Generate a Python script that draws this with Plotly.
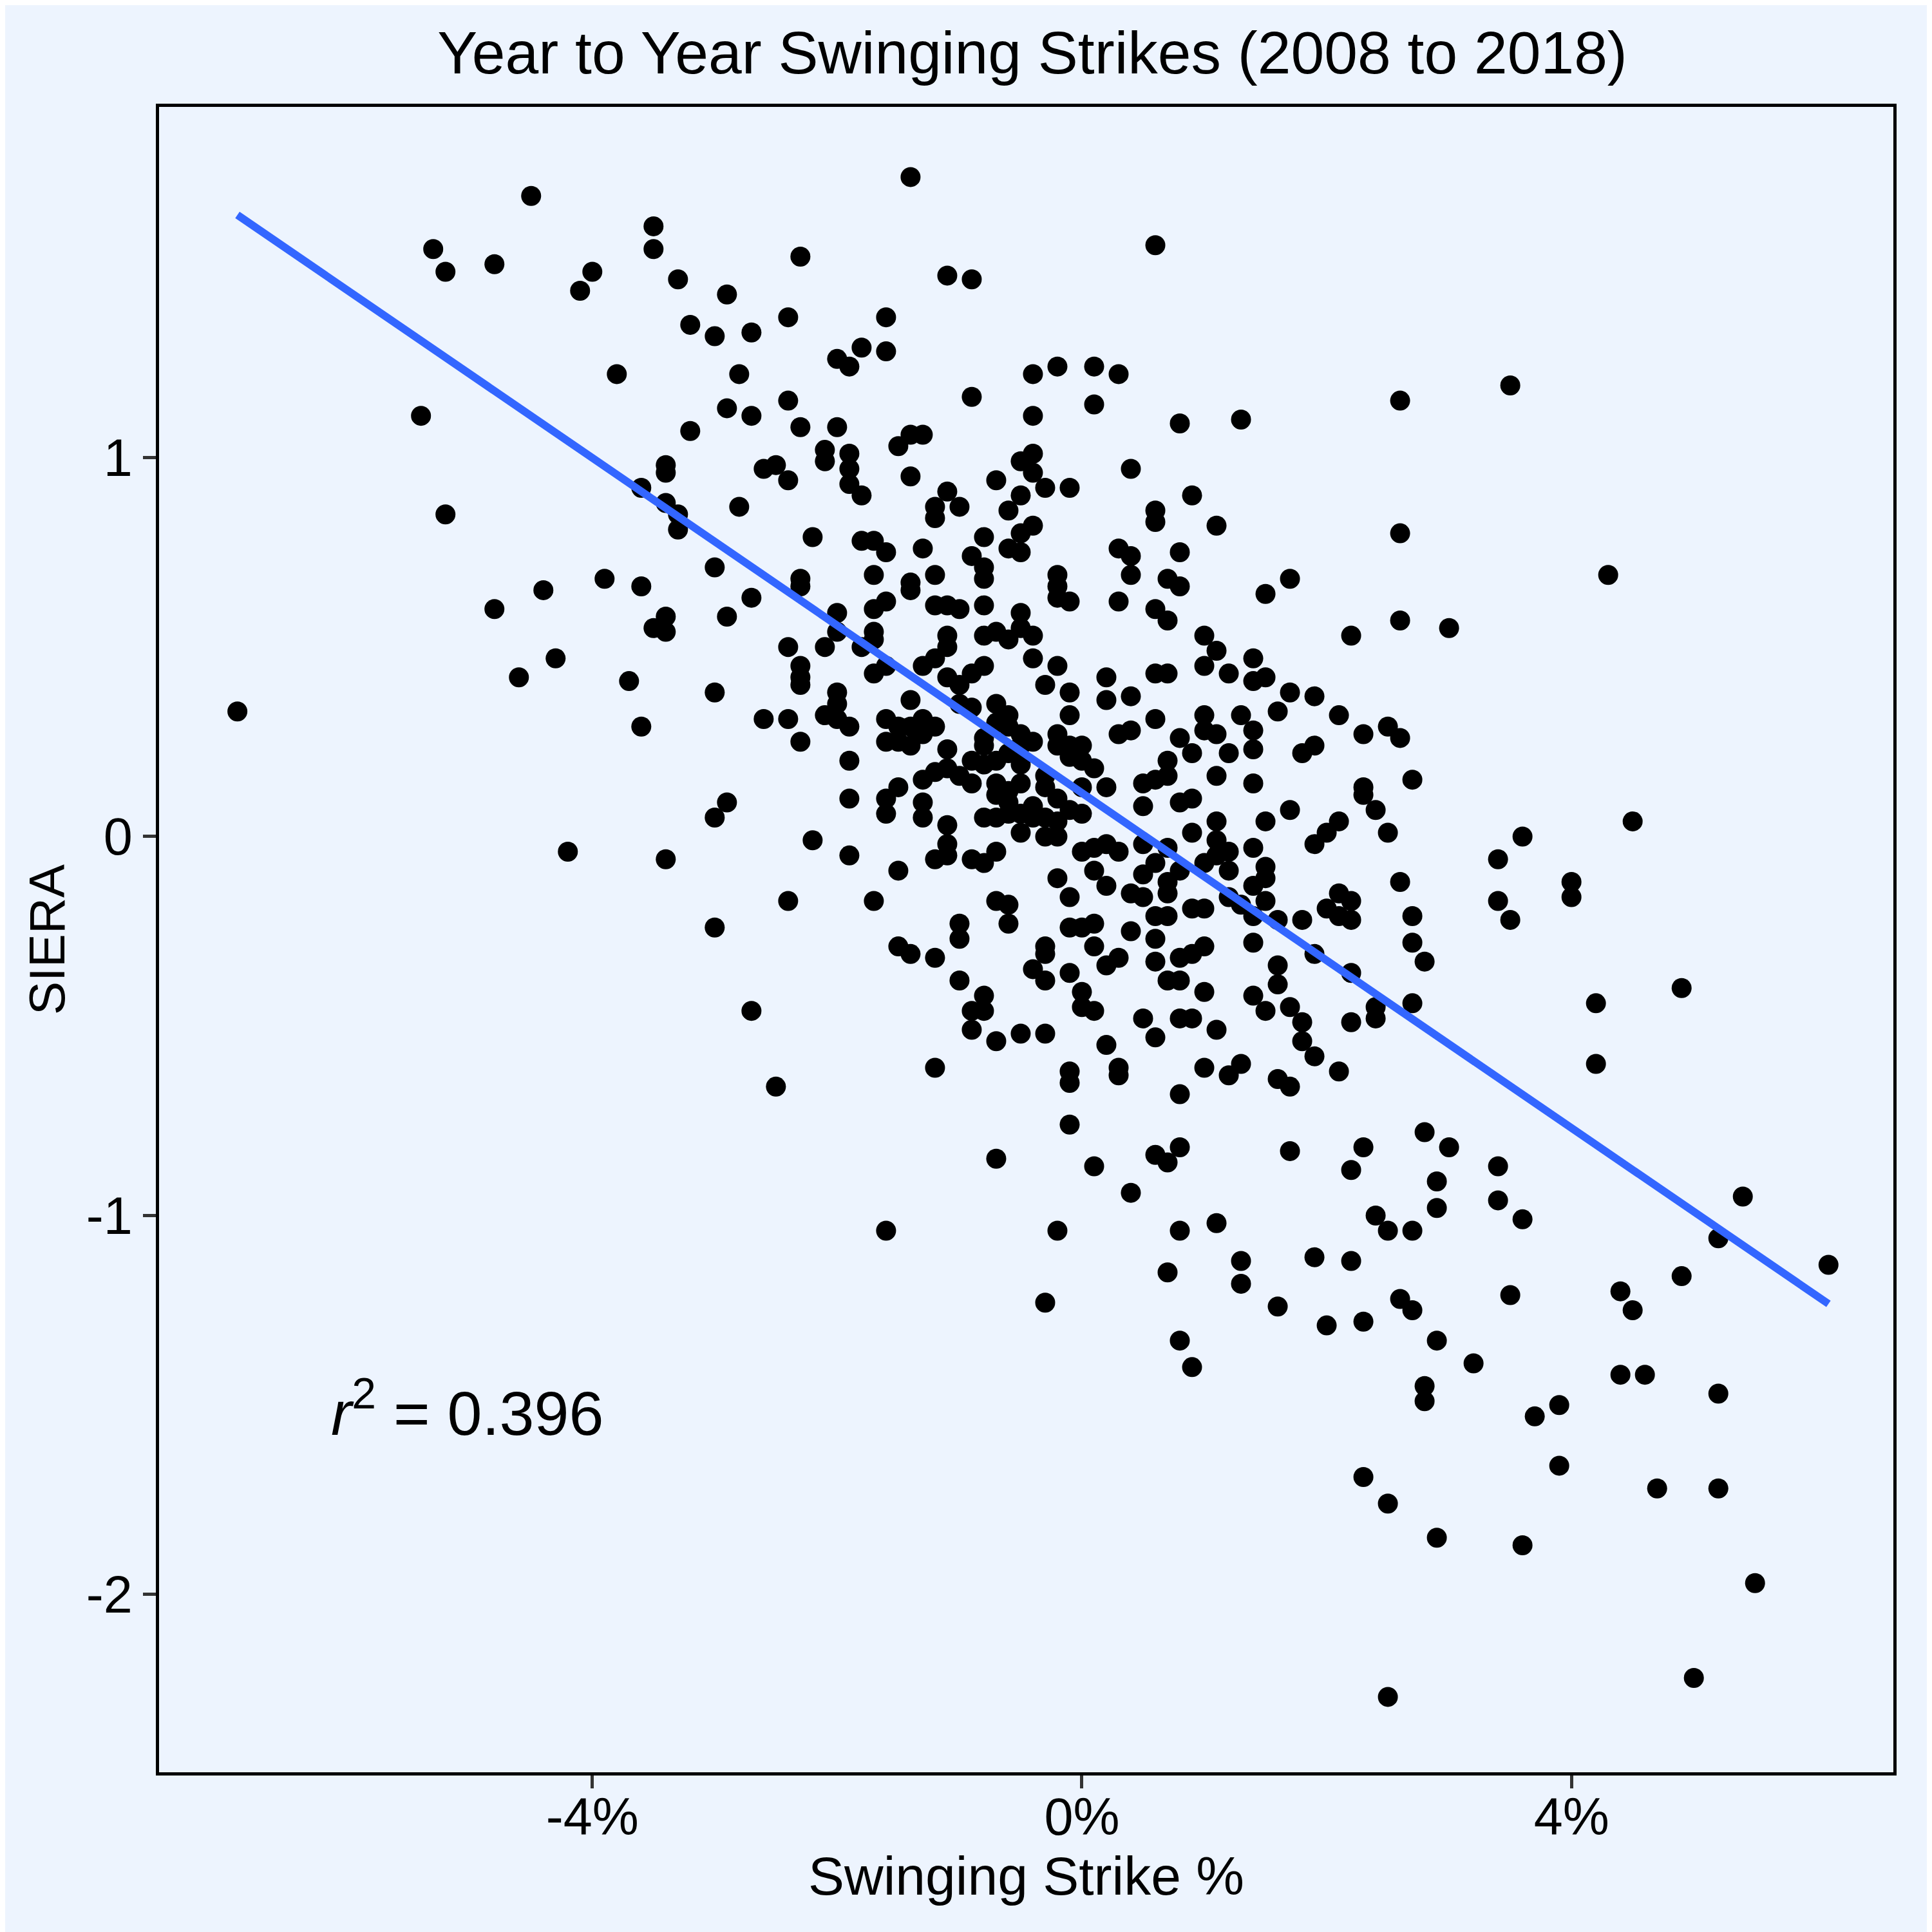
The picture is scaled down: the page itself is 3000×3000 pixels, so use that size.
import plotly.graph_objects as go

# OVERVIEW: year to year change in swinging strike % vs change in SIERA (2008-2018)

###### DATA ######
# change in swinging strike % (percentage points)
swing_diff = [
    -6.9, -5.4, -5.3, -5.2, -5.2, -4.8, -4.8, -4.6, -4.5, -4.4, -4.3, -4.2,
    -4.1, -4.0, -3.9, -3.8, -3.7, -3.6, -3.6, -3.6, -3.5, -3.5, -3.5, -3.4,
    -3.4, -3.4, -3.4, -3.4, -3.4, -3.3, -3.3, -3.3, -3.2, -3.2, -3.0, -3.0,
    -3.0, -3.0, -3.0, -2.9, -2.9, -2.9, -2.9, -2.8, -2.8, -2.7, -2.7, -2.7,
    -2.7, -2.6, -2.6, -2.5, -2.5, -2.4, -2.4, -2.4, -2.4, -2.4, -2.4, -2.3,
    -2.3, -2.3, -2.3, -2.3, -2.3, -2.3, -2.3, -2.2, -2.2, -2.1, -2.1, -2.1,
    -2.1, -2.0, -2.0, -2.0, -2.0, -2.0, -2.0, -2.0, -1.9, -1.9, -1.9, -1.9,
    -1.9, -1.9, -1.9, -1.9, -1.8, -1.8, -1.8, -1.8, -1.7, -1.7, -1.7, -1.7,
    -1.7, -1.7, -1.7, -1.6, -1.6, -1.6, -1.6, -1.6, -1.6, -1.6, -1.6, -1.6,
    -1.5, -1.5, -1.5, -1.5, -1.5, -1.4, -1.4, -1.4, -1.4, -1.4, -1.4, -1.4,
    -1.4, -1.4, -1.3, -1.3, -1.3, -1.3, -1.3, -1.3, -1.3, -1.2, -1.2, -1.2,
    -1.2, -1.2, -1.2, -1.2, -1.2, -1.2, -1.2, -1.1, -1.1, -1.1, -1.1, -1.1,
    -1.1, -1.1, -1.1, -1.1, -1.1, -1.1, -1.0, -1.0, -1.0, -1.0, -1.0, -1.0,
    -1.0, -0.9, -0.9, -0.9, -0.9, -0.9, -0.9, -0.9, -0.9, -0.9, -0.8, -0.8,
    -0.8, -0.8, -0.8, -0.8, -0.8, -0.8, -0.8, -0.8, -0.8, -0.8, -0.8, -0.7,
    -0.7, -0.7, -0.7, -0.7, -0.7, -0.7, -0.7, -0.7, -0.7, -0.7, -0.6, -0.6,
    -0.6, -0.6, -0.6, -0.6, -0.6, -0.6, -0.6, -0.6, -0.5, -0.5, -0.5, -0.5,
    -0.5, -0.5, -0.5, -0.5, -0.5, -0.5, -0.5, -0.5, -0.4, -0.4, -0.4, -0.4,
    -0.4, -0.4, -0.4, -0.4, -0.4, -0.4, -0.4, -0.3, -0.3, -0.3, -0.3, -0.3,
    -0.3, -0.3, -0.3, -0.3, -0.3, -0.2, -0.2, -0.2, -0.2, -0.2, -0.2, -0.2,
    -0.2, -0.2, -0.2, -0.2, -0.1, -0.1, -0.1, -0.1, -0.1, -0.1, -0.1, -0.1,
    -0.1, -0.1, -0.1, -0.1, -0.1, 0.0, 0.0, 0.0, 0.0, 0.0, 0.0, 0.0,
    0.1, 0.1, 0.1, 0.1, 0.1, 0.1, 0.1, 0.1, 0.1, 0.2, 0.2, 0.2,
    0.2, 0.2, 0.2, 0.3, 0.3, 0.3, 0.3, 0.3, 0.3, 0.3, 0.4, 0.4,
    0.4, 0.4, 0.4, 0.4, 0.4, 0.4, 0.5, 0.5, 0.5, 0.5, 0.5, 0.6,
    0.6, 0.6, 0.6, 0.6, 0.6, 0.6, 0.6, 0.6, 0.6, 0.6, 0.6, 0.6,
    0.7, 0.7, 0.7, 0.7, 0.7, 0.7, 0.7, 0.7, 0.7, 0.7, 0.7, 0.8,
    0.8, 0.8, 0.8, 0.8, 0.8, 0.8, 0.8, 0.8, 0.8, 0.8, 0.8, 0.8,
    0.9, 0.9, 0.9, 0.9, 0.9, 0.9, 0.9, 1.0, 1.0, 1.0, 1.0, 1.0,
    1.0, 1.0, 1.0, 1.0, 1.1, 1.1, 1.1, 1.1, 1.1, 1.1, 1.1, 1.1,
    1.1, 1.2, 1.2, 1.2, 1.2, 1.2, 1.3, 1.3, 1.3, 1.3, 1.3, 1.3,
    1.4, 1.4, 1.4, 1.4, 1.4, 1.4, 1.4, 1.4, 1.4, 1.4, 1.5, 1.5,
    1.5, 1.5, 1.5, 1.5, 1.6, 1.6, 1.6, 1.6, 1.6, 1.6, 1.7, 1.7,
    1.7, 1.7, 1.7, 1.7, 1.8, 1.8, 1.8, 1.8, 1.9, 1.9, 1.9, 1.9,
    1.9, 1.9, 2.0, 2.0, 2.0, 2.1, 2.1, 2.1, 2.1, 2.1, 2.2, 2.2,
    2.2, 2.2, 2.2, 2.2, 2.2, 2.3, 2.3, 2.3, 2.3, 2.3, 2.3, 2.4,
    2.4, 2.4, 2.4, 2.5, 2.5, 2.5, 2.5, 2.5, 2.6, 2.6, 2.6, 2.6,
    2.6, 2.6, 2.7, 2.7, 2.7, 2.7, 2.7, 2.7, 2.8, 2.8, 2.8, 2.8,
    2.9, 2.9, 2.9, 2.9, 3.0, 3.0, 3.2, 3.4, 3.4, 3.4, 3.4, 3.5,
    3.5, 3.5, 3.6, 3.6, 3.6, 3.7, 3.9, 3.9, 4.0, 4.0, 4.2, 4.2,
    4.3, 4.4, 4.4, 4.5, 4.5, 4.6, 4.7, 4.9, 4.9, 5.0, 5.2, 5.2,
    5.2, 5.4, 5.5, 6.1,
    # extra points hidden in the dense middle
    -1.6, -1.5, -1.3, -1.0, -0.9, -0.7, -0.6, -0.5, -0.3, -0.2, 0.0, 0.2,
    0.3, 0.5, 0.7, 0.9, 1.2, 1.5,
]

# change in SIERA
siera_diff = [
    0.33, 1.11, 1.55, 1.49, 0.85, 1.51, 0.60, 0.42, 1.69, 0.65, 0.47, -0.04,
    1.44, 1.49, 0.68, 1.22, 0.41, 0.66, 0.29, 0.92, 1.61, 1.55, 0.55, 0.98,
    0.96, 0.88, 0.58, 0.54, -0.06, 1.47, 0.85, 0.81, 1.35, 1.07, 1.32, 0.71,
    0.38, 0.05, -0.24, 1.43, 1.13, 0.58, 0.09, 1.22, 0.87, 1.11, 1.33, 0.63,
    -0.46, 0.97, 0.31, 0.98, -0.66, 0.94, 1.15, 1.37, 0.50, 0.31, -0.17, 1.53,
    1.08, 0.68, 0.66, 0.45, 0.42, 0.40, 0.25, 0.79, -0.01, 1.02, 0.99, 0.50,
    0.32, 1.26, 1.08, 0.59, 0.54, 0.38, 0.35, 0.31, 1.24, 1.01, 0.97, 0.93,
    0.29, 0.20, 0.10, -0.05, 1.29, 0.90, 0.78, 0.50, 0.78, 0.69, 0.60, 0.54,
    0.52, 0.43, -0.17, 1.37, 1.28, 0.75, 0.62, 0.45, 0.25, 0.10, 0.06, -1.04,
    1.03, 0.25, 0.13, -0.09, -0.29, 1.74, 1.06, 0.95, 0.67, 0.65, 0.36, 0.29,
    0.24, -0.31, 1.06, 0.76, 0.45, 0.31, 0.15, 0.09, 0.05, 0.87, 0.84, 0.69,
    0.61, 0.47, 0.29, 0.17, -0.06, -0.32, -0.61, 1.48, 0.91, 0.61, 0.53, 0.50,
    0.42, 0.23, 0.18, 0.03, -0.02, -0.05, 0.87, 0.60, 0.40, 0.16, -0.23, -0.27,
    -0.38, 1.47, 1.16, 0.74, 0.43, 0.34, 0.14, -0.06, -0.46, -0.51, 0.79, 0.71,
    0.68, 0.61, 0.53, 0.45, 0.26, 0.24, 0.19, 0.05, -0.07, -0.42, -0.46, 0.94,
    0.54, 0.35, 0.20, 0.14, 0.11, 0.05, -0.04, -0.17, -0.54, -0.85, 0.86, 0.76,
    0.52, 0.32, 0.29, 0.22, 0.09, 0.06, -0.18, -0.23, 0.99, 0.90, 0.80, 0.75,
    0.59, 0.55, 0.27, 0.19, 0.14, 0.06, 0.01, -0.52, 1.22, 1.11, 1.01, 0.96,
    0.82, 0.53, 0.47, 0.25, 0.08, 0.05, -0.35, 0.92, 0.40, 0.16, 0.13, 0.00,
    -0.29, -0.31, -0.38, -0.52, -1.23, 1.24, 0.69, 0.66, 0.63, 0.45, 0.27, 0.24,
    0.04, 0.00, -0.11, -1.04, 0.92, 0.62, 0.38, 0.32, 0.24, 0.21, 0.07, -0.16,
    -0.24, -0.36, -0.62, -0.65, -0.76, 0.24, 0.20, 0.06, -0.04, -0.24, -0.41, -0.45,
    1.24, 1.14, 0.18, -0.03, -0.09, -0.23, -0.29, -0.46, -0.87, 0.42, 0.36, 0.13,
    -0.13, -0.34, -0.55, 1.22, 0.76, 0.62, 0.27, -0.32, -0.61, -0.63, 0.97, 0.74,
    0.69, 0.37, 0.28, -0.15, -0.25, -0.94, 0.14, 0.08, -0.02, -0.16, -0.48, 1.56,
    0.86, 0.83, 0.60, 0.43, 0.31, 0.15, -0.07, -0.21, -0.27, -0.33, -0.53, -0.84,
    0.68, 0.57, 0.43, 0.20, 0.16, -0.03, -0.15, -0.21, -0.38, -0.86, -1.15, 1.09,
    0.75, 0.66, 0.26, 0.09, -0.09, -0.32, -0.38, -0.48, -0.68, -0.82, -1.04, -1.33,
    0.90, 0.22, 0.10, -0.19, -0.31, -0.48, -1.40, 0.53, 0.45, 0.32, 0.28, -0.07,
    -0.19, -0.29, -0.41, -0.61, 0.82, 0.49, 0.27, 0.16, 0.04, -0.01, -0.05, -0.51,
    -1.02, 0.43, 0.22, -0.04, -0.16, -0.63, 1.10, 0.32, -0.18, -0.60, -1.12, -1.18,
    0.47, 0.41, 0.28, 0.23, 0.14, -0.03, -0.13, -0.21, -0.28, -0.42, 0.42, 0.64,
    0.04, -0.08, -0.11, -0.46, 0.33, -0.22, -0.34, -0.39, -0.64, -1.24, 0.68, 0.38,
    0.07, -0.45, -0.66, -0.83, 0.22, -0.22, -0.49, -0.54, 0.37, 0.24, -0.02, -0.31,
    -0.58, -1.11, 0.01, -0.19, -1.29, 0.32, 0.04, -0.15, -0.21, -0.62, 0.53, -0.17,
    -0.22, -0.36, -0.49, -0.88, -1.12, 0.27, 0.13, 0.11, -0.82, -1.28, -1.69, 0.07,
    -0.45, -0.48, -1.00, 0.29, 0.01, -1.04, -1.76, -2.27, 1.15, 0.80, 0.57, 0.26,
    -0.12, -1.22, 0.15, -0.21, -0.28, -0.44, -1.04, -1.25, -0.33, -0.78, -1.45, -1.49,
    -0.91, -0.98, -1.33, -1.85, 0.55, -0.82, -1.39, -0.06, -0.17, -0.87, -0.96, 1.19,
    -0.22, -1.21, 0.00, -1.01, -1.87, -1.53, -1.50, -1.66, -0.12, -0.16, -0.44, -0.60,
    0.69, -1.20, -1.42, 0.04, -1.25, -1.42, -1.72, -0.40, -1.16, -2.22, -1.06, -1.47,
    -1.72, -0.95, -1.97, -1.13,
    0.31, 0.29, 0.27, 0.35, 0.20, 0.30, 0.12, 0.24, 0.05, 0.10, 0.13, -0.02,
    -0.04, -0.10, -0.12, 0.01, -0.09, -0.17,
]

# least squares line as drawn on the reference
fit_slope = -0.221
fit_intercept = 0.115
r_squared = 0.396

x_ticks = [-4, 0, 4]
x_tick_labels = ["-4%", "0%", "4%"]
y_ticks = [-2, -1, 0, 1]
y_tick_labels = ["-2", "-1", "0", "1"]

BG = "#EDF4FE"
FONT = "Liberation Sans, Arial, sans-serif"

###### VISUALIZATION ######
fit_x = [min(swing_diff), max(swing_diff)]
fit_y = [fit_intercept + fit_slope * v for v in fit_x]

fig = go.Figure()

fig.add_trace(go.Scatter(
    x=swing_diff,
    y=siera_diff,
    mode="markers",
    marker=dict(color="black", size=31, line=dict(width=0)),
    showlegend=False,
))

fig.add_trace(go.Scatter(
    x=fit_x,
    y=fit_y,
    mode="lines",
    line=dict(color="#3366FF", width=12),
    showlegend=False,
))

fig.add_annotation(
    x=-5.02, y=-1.51, xref="x", yref="y",
    text=f"<i>r</i><sup>2</sup> = {r_squared:.3f}",
    showarrow=False,
    font=dict(family=FONT, size=97, color="black"),
)

# page has an 8px body margin, so margins are nudged to keep the panel in place
fig.update_layout(
    width=3000,
    height=3000,
    paper_bgcolor=BG,
    plot_bgcolor=BG,
    margin=dict(l=239, r=68, t=158, b=256),
    font=dict(family=FONT, color="black"),
    title=dict(
        text="Year to Year Swinging Strikes (2008 to 2018)",
        x=0.5317, xanchor="center",
        y=0.9755, yanchor="middle",
        font=dict(size=93, color="black"),
    ),
)

fig.update_xaxes(
    range=[-7.54, 6.63],
    tickvals=x_ticks, ticktext=x_tick_labels,
    ticks="outside", ticklen=20, tickwidth=5, tickcolor="#333333",
    ticklabelstandoff=-25,
    tickfont=dict(size=81, color="black"),
    showgrid=False, zeroline=False,
    showline=True, linecolor="black", linewidth=5, mirror=True,
    title=dict(text="Swinging Strike %", font=dict(size=84, color="black"), standoff=16),
)

fig.update_yaxes(
    range=[-2.469, 1.925],
    tickvals=y_ticks, ticktext=y_tick_labels,
    ticks="outside", ticklen=20, tickwidth=5, tickcolor="#333333",
    tickfont=dict(size=81, color="black"),
    showgrid=False, zeroline=False,
    showline=True, linecolor="black", linewidth=5, mirror=True,
    title=dict(text="SIERA", font=dict(size=78, color="black"), standoff=9),
)

fig.write_html("out.html")
